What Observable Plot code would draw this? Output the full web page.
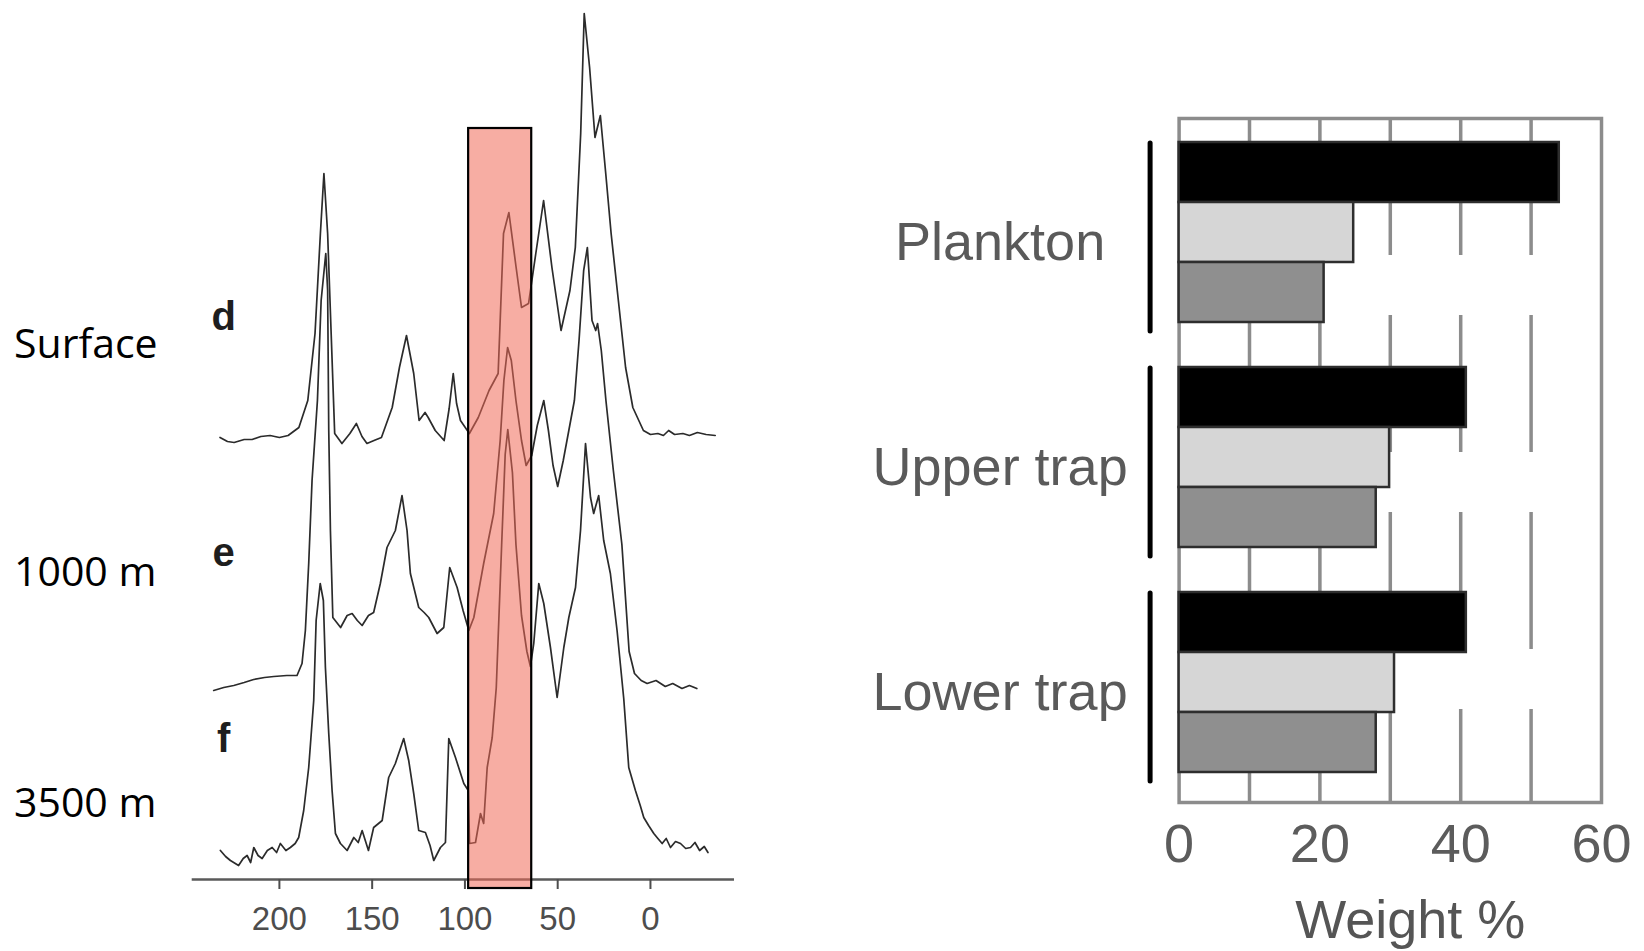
<!DOCTYPE html>
<html><head><meta charset="utf-8">
<script src="https://cdn.jsdelivr.net/npm/d3@7"></script>
<script src="https://cdn.jsdelivr.net/npm/@observablehq/plot@0.6"></script>
<style>
html,body{margin:0;padding:0;background:#fff;}
#wrap{position:relative;width:1644px;height:951px;overflow:hidden;background:#fff;}
#wrap svg{position:absolute;left:0;top:0;}
.depth{position:absolute;left:14px;font-family:"Open Sans",sans-serif;font-size:41px;line-height:42px;height:42px;color:#000;white-space:nowrap;}
</style></head><body><div id="wrap"></div>
<script>
// ---------- left: 13C NMR spectra ----------
const depthLabels = ["Surface", "1000 m", "3500 m"];
const traceNames = ["d", "e", "f"];
const traceOffsets = [441, 192, 29];      // baseline height of each trace (same units as intensity)
const traceLabelHeights = [121, 134, 111];
const traceLabelPpm = 230;
const ppmTicks = [200, 150, 100, 50, 0];
const ppmDomain = [247, -45.3];
const highlightPpm = [98, 64];
const highlightSpan = [-9, 751];

const spectrumD = [[232,1],[228,-3],[224.4,-4],[219,-1],[214.7,-1],[210,2],[205,3],[200,1],[195.3,3],[189.5,11],[184.7,38],[180.8,105],[177.9,205],[176,265],[174,205],[172.1,105],[170.2,5],[166.3,-5],[162,5],[158.5,15],[155.5,2],[152.8,-5],[149,-2],[145,1],[139.2,31],[135.3,71],[131.5,103],[127.6,65],[124.7,18],[121.5,26],[119.8,21],[116,8],[111.2,-2],[108.5,30],[106.3,65],[104.5,35],[102.4,18],[97.6,5],[92.8,21],[87,48],[82.1,65],[79.2,205],[76.3,226],[72.4,171],[69.5,131],[65.7,135],[61.8,185],[57.6,238],[53.1,171],[48.2,108],[43.4,148],[40.5,191],[37.6,305],[35.7,425],[32.8,371],[29.9,301],[27,323],[24.1,265],[21.2,205],[17.3,138],[13.4,71],[9.5,31],[3.8,8],[0,4],[-4,5],[-7,3],[-9.8,8],[-13,4],[-17.5,5],[-21,3],[-25.3,6],[-30,4],[-34.9,3]];
const spectrumE = [[235.4,-3],[230,0],[224.6,2],[219,5],[213.9,8],[208,10],[203,11],[196,12],[190.5,12],[187.8,24],[186,57],[184.2,124],[182.4,207],[179.5,287],[177.5,387],[175,434],[174,397],[173.4,257],[172.5,157],[171.2,70],[167,60],[163.5,72],[160.8,74],[158,67],[155.4,62],[152,72],[149.2,75],[145.6,104],[142,140],[137.5,157],[133.9,192],[131.2,157],[129.4,114],[124.9,80],[122,75],[119.5,70],[115,54],[111.4,60],[108.2,120],[104.2,100],[101,77],[97.9,57],[95.2,70],[89.9,124],[84.5,174],[81,247],[79,307],[77,340],[75,327],[72.5,287],[69.5,247],[67,222],[64,232],[61,262],[57.5,287],[55,257],[52.5,222],[50,201],[47,227],[44,257],[41,287],[38.5,347],[36,417],[34,440],[31.5,367],[29.5,357],[28.5,364],[26.5,337],[24,287],[20,217],[15.4,143],[11.5,36],[8.6,14],[5,7],[1.8,4],[-3,7],[-8,1],[-12,4],[-17,-1],[-21,2],[-25,-1]];
const spectrumF = [[231.8,0],[229,-6],[226.4,-10],[222,-15],[219.5,-8],[217.4,-5],[215.5,-12],[213.8,3],[211.5,-5],[209.3,-8],[206.5,0],[203.9,3],[201.5,-2],[199.5,7],[196.5,0],[194.1,3],[191.5,7],[189.6,13],[186.9,40],[184.2,83],[181.5,150],[180.2,230],[178,267],[176.3,250],[175.2,183],[173.4,117],[171.6,60],[169.8,17],[167.1,7],[163.5,0],[159.9,13],[157.5,8],[155.4,20],[152,0],[149.2,23],[144.6,30],[141.1,73],[137.5,87],[133,112],[130.3,90],[127.6,57],[124.9,20],[121.3,18],[118.8,5],[116.8,-10],[113.2,3],[110.5,8],[108.7,112],[105.1,93],[100.6,67],[98.2,60],[97.5,7],[94.3,8],[91.6,37],[89.9,27],[88,83],[85.3,113],[83.1,163],[80.2,306],[78.3,396],[76.9,421],[74.4,378],[72.5,306],[69.5,235],[66.6,199],[64.7,184],[62.9,207],[60.2,267],[57.5,247],[53.9,203],[50.3,153],[46.7,203],[44,233],[40.4,263],[37.7,320],[35,407],[32.3,353],[30.6,337],[27.9,355],[25.2,310],[21.6,277],[18,220],[14.4,152],[11.7,83],[8.1,60],[5.5,45],[3.6,33],[1,25],[-1.8,17],[-4,12],[-6.3,7],[-8.5,12],[-10.8,3],[-13.5,9],[-16.2,7],[-19,2],[-21.6,3],[-24,8],[-26.5,0],[-29,4],[-31,-2]];
const spectra = [spectrumD, spectrumE, spectrumF];

// ---------- right: weight % bars ----------
const groups = ["Plankton", "Upper trap", "Lower trap"];
const seriesKeys = ["black", "light", "dark"];
const blackValues = [54, 40.8, 40.8];
const lightValues = [24.8, 29.9, 30.6];
const darkValues = [20.6, 28, 28];
const barColors = ["#000000", "#d6d6d6", "#8f8f8f"];
const weightTicks = [0, 20, 40, 60];
const gridValues = [10, 20, 30, 40, 50];
const weightTitle = "Weight %";

const W = 1644, H = 951;
const wrap = document.getElementById("wrap");
const font = "'Liberation Sans', Arial, Helvetica, sans-serif";

const specRows = traceNames.flatMap((name, i) =>
  spectra[i].map(([ppm, v]) => ({trace: name, ppm, y: traceOffsets[i] + v})));
const labelRows = traceNames.map((name, i) => ({name, ppm: traceLabelPpm, y: traceOffsets[i] + traceLabelHeights[i]}));

const left = Plot.plot({
  width: W, height: H,
  marginLeft: 191.7, marginRight: W - 734, marginTop: 0, marginBottom: H - 879,
  x: {domain: ppmDomain, axis: null},
  y: {domain: [0, 879], axis: null},
  style: {background: "transparent", fontFamily: font, overflow: "visible"},
  marks: [
    Plot.line(specRows, {x: "ppm", y: "y", z: "trace", stroke: "#2b2b2b", strokeWidth: 1.7, strokeLinejoin: "round"}),
    Plot.text(labelRows, {x: "ppm", y: "y", text: "name", fontSize: 40, fontWeight: "bold", fill: "#1e1e1e"}),
    Plot.ruleY([0], {stroke: "#5a5a5a", strokeWidth: 2.5}),
    Plot.axisX({ticks: ppmTicks, tickSize: 10, tickPadding: 17, fontSize: 33, color: "#4d4d4d", strokeWidth: 2, label: null}),
    Plot.rect([{x1: highlightPpm[0], x2: highlightPpm[1], y1: highlightSpan[0], y2: highlightSpan[1]}],
      {x1: "x1", x2: "x2", y1: "y1", y2: "y2", fill: "rgb(240,105,88)", fillOpacity: 0.55, stroke: "#000", strokeWidth: 2.2})
  ]
});
wrap.appendChild(left);

const common = {
  width: W, height: H,
  marginLeft: 1178.6, marginRight: W - 1601, marginTop: 118, marginBottom: H - 802
};
const back = Plot.plot({
  ...common,
  x: {domain: [0, 60], axis: null},
  style: {background: "transparent", fontFamily: font, overflow: "visible"},
  marks: [
    Plot.ruleX(gridValues, {stroke: "#8c8c8c", strokeWidth: 3.5, strokeDasharray: "137,60"}),
    Plot.frame({stroke: "#8c8c8c", strokeWidth: 3.5}),
    Plot.axisX({ticks: weightTicks, tickSize: 0, tickPadding: 21, fontSize: 54, color: "#5c5c5c", label: null}),
    Plot.text([weightTitle], {text: d => d, frameAnchor: "bottom", dx: 20, dy: 135, fontSize: 54, fill: "#555"})
  ]
});
wrap.appendChild(back);

const barRows = groups.flatMap((g, i) => [
  {group: g, series: seriesKeys[0], value: blackValues[i]},
  {group: g, series: seriesKeys[1], value: lightValues[i]},
  {group: g, series: seriesKeys[2], value: darkValues[i]}
]);
const bars = Plot.plot({
  ...common,
  x: {domain: [0, 60], axis: null},
  y: {domain: seriesKeys, padding: 0, axis: null},
  fy: {domain: groups, paddingInner: 0.19, paddingOuter: 0.1084, align: 0.45, axis: null},
  color: {domain: seriesKeys, range: barColors},
  style: {background: "transparent", fontFamily: font, overflow: "visible"},
  marks: [
    Plot.barX(barRows, {x: "value", y: "series", fy: "group", fill: "series", stroke: "#2e2e2e", strokeWidth: 2.5}),
    Plot.ruleX(groups, {x: () => 0, fy: d => d, dx: -29, stroke: "#000", strokeWidth: 5, strokeLinecap: "round", insetTop: 2, insetBottom: -8}),
    Plot.text(groups, {fy: d => d, text: d => d, frameAnchor: "left", textAnchor: "middle", dx: -179, dy: 10, fontSize: 54, fill: "#5a5a5a"})
  ]
});
wrap.appendChild(bars);

const depthCenters = [344, 572, 803];
depthLabels.forEach((t, i) => {
  const d = document.createElement("div");
  d.className = "depth";
  d.textContent = t;
  d.style.top = (depthCenters[i] - 23) + "px";
  wrap.appendChild(d);
});
</script></body></html>
